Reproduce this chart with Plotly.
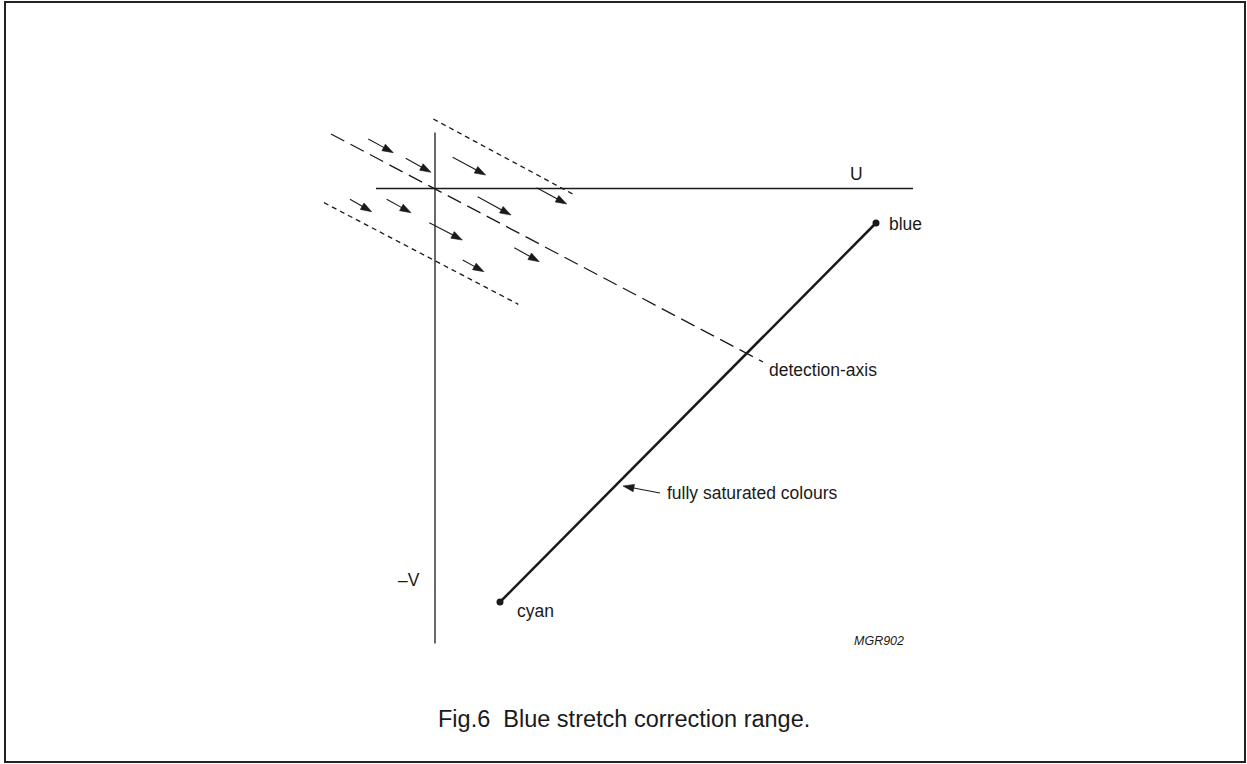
import math
import plotly.graph_objects as go

# Diagram coordinates: U to the right, -V downward (origin = axes crossing)
u_axis_u = [-59, 478]
u_axis_w = [0, 0]
v_axis_u = [0, 0]
v_axis_w = [-56, 455]

detect_u = [-104, 328]
detect_w = [-54.5, 173.5]

upper_u = [-1.7, 138.3]
upper_w = [-69.5, 5.8]
lower_u = [-111, 83.3]
lower_w = [14.2, 115.8]

sat_u = [441, 65]      # blue -> cyan
sat_w = [34.5, 413.5]

# arrows: tail (u, w) -> head (u, w); last one points at the saturated-colour line
arrow_tail_u = [-66.7, -29.3, 17.7, 101.7, -85, -48.3, 42.7, -5.7, 79.3, 27.7, 225]
arrow_tail_w = [-49.5, -30.2, -31.2, -0.8, 10.8, 10.8, 8.2, 34.2, 59.2, 71.5, 304.5]
arrow_head_u = [-41.7, -4, 50.7, 131.7, -63.3, -24, 76, 27.3, 104.3, 49, 188]
arrow_head_w = [-35.8, -16.2, -13.5, 15.5, 23.2, 24.2, 26.5, 51.5, 73.2, 83.2, 297.5]

labels = ["U", "blue", "cyan", "detection-axis", "fully saturated colours", "\u2013V"]
label_u = [421, 452, 79.5, 331.7, 230, -13]
label_w = [-15, 35.5, 422.5, 181.5, 304.5, 391.5]
label_anchor = ["center", "left", "left", "left", "left", "right"]

code_text = "MGR902"
code_pos = (443.5, 452.5)
caption = "Fig.6  Blue stretch correction range."
caption_pos = (189, 530)

FONT = "Liberation Sans, Arial, sans-serif"
INK = "#1a1a1a"
HEAD_LEN = 11
HEAD_HALF = 3.7

fig = go.Figure()

def line(xs, ys, width=1.3, dash="solid"):
    fig.add_trace(go.Scatter(x=xs, y=ys, mode="lines",
                             line=dict(color=INK, width=width, dash=dash),
                             hoverinfo="skip", showlegend=False))

line(u_axis_u, u_axis_w)
line(v_axis_u, v_axis_w)
line(detect_u, detect_w, width=1.3, dash="15px,7px")
line(upper_u, upper_w, width=1.3, dash="5px,4px")
line(lower_u, lower_w, width=1.3, dash="5px,4px")
line(sat_u, sat_w, width=2.5)
fig.add_trace(go.Scatter(x=sat_u, y=sat_w, mode="markers",
                         marker=dict(color=INK, size=7),
                         hoverinfo="skip", showlegend=False))

# arrow shafts and heads (built from the arrow endpoints)
shaft_x, shaft_y, head_x, head_y = [], [], [], []
for tu, tw, hu, hw in zip(arrow_tail_u, arrow_tail_w, arrow_head_u, arrow_head_w):
    du, dw = hu - tu, hw - tw
    n = math.hypot(du, dw)
    du, dw = du / n, dw / n
    bu, bw = hu - HEAD_LEN * du, hw - HEAD_LEN * dw
    shaft_x += [tu, bu + 1.5 * du, None]
    shaft_y += [tw, bw + 1.5 * dw, None]
    head_x += [hu, bu - HEAD_HALF * dw, bu + HEAD_HALF * dw, hu, None]
    head_y += [hw, bw + HEAD_HALF * du, bw - HEAD_HALF * du, hw, None]

fig.add_trace(go.Scatter(x=shaft_x, y=shaft_y, mode="lines",
                         line=dict(color=INK, width=1.1),
                         hoverinfo="skip", showlegend=False))
fig.add_trace(go.Scatter(x=head_x, y=head_y, mode="lines", fill="toself",
                         fillcolor=INK, line=dict(color=INK, width=0.6),
                         hoverinfo="skip", showlegend=False))

for t, lu, lw, anc in zip(labels, label_u, label_w, label_anchor):
    fig.add_annotation(x=lu, y=lw, text=t, showarrow=False, xanchor=anc, yanchor="middle",
                       font=dict(family=FONT, size=17.5, color=INK))

fig.add_annotation(x=code_pos[0], y=code_pos[1], text="<i>" + code_text + "</i>",
                   showarrow=False, xanchor="center", yanchor="middle",
                   font=dict(family=FONT, size=12.5, color=INK))
fig.add_annotation(x=caption_pos[0], y=caption_pos[1], text=caption,
                   showarrow=False, xanchor="center", yanchor="middle",
                   font=dict(family=FONT, size=23.5, color=INK))

fig.add_shape(type="rect", xref="paper", yref="paper",
              x0=5 / 1247, x1=1245 / 1247, y0=1 - 762 / 764, y1=1 - 2 / 764,
              line=dict(color="#222222", width=2))

fig.update_layout(
    width=1247, height=764,
    margin=dict(l=0, r=0, t=0, b=0),
    paper_bgcolor="white", plot_bgcolor="white",
    xaxis=dict(range=[-435, 812], visible=False, fixedrange=True),
    yaxis=dict(range=[575.5, -188.5], visible=False, fixedrange=True),
    showlegend=False,
)

fig.write_html(
    "out.html",
    config={"displayModeBar": False},
    post_script="document.body.style.margin='0';document.body.style.padding='0';"
                "document.body.style.overflow='hidden';"
                "document.documentElement.style.overflow='hidden';",
)
